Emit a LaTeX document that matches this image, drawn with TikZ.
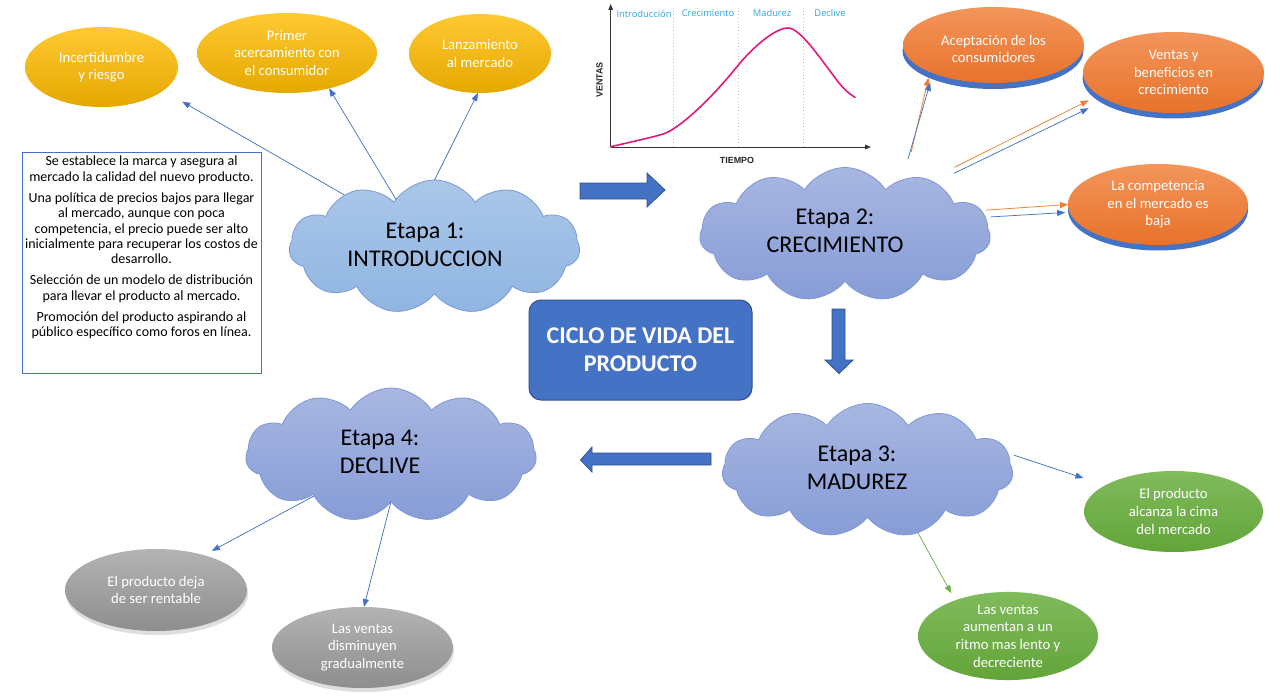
\documentclass[tikz,border=0pt]{standalone}
\usepackage{fontspec}
\setmainfont{Carlito}
\newfontfamily\chartfont{Open Sans}
\newfontfamily\chartbold{Liberation Sans}
\usetikzlibrary{shapes.geometric,shapes.symbols,arrows.meta}
\definecolor{blueA}{HTML}{4472C4}
\definecolor{blueD}{HTML}{2F528F}
\definecolor{cloudAT}{HTML}{AAC7E9}
\definecolor{cloudAB}{HTML}{8FB5E1}
\definecolor{cloudBT}{HTML}{A8B7E1}
\definecolor{cloudBB}{HTML}{879CD7}
\definecolor{cloudLine}{HTML}{7E98D6}
\definecolor{yelT}{HTML}{FFC933}
\definecolor{yelB}{HTML}{E5A800}
\definecolor{oraT}{HTML}{F3955B}
\definecolor{oraB}{HTML}{E8722A}
\definecolor{oraL}{HTML}{ED7D31}
\definecolor{greT}{HTML}{80BB5C}
\definecolor{greB}{HTML}{63A43A}
\definecolor{greL}{HTML}{70AD47}
\definecolor{graT}{HTML}{B3B3B3}
\definecolor{graB}{HTML}{8E8E8E}
\definecolor{chartTxt}{HTML}{2FA6E0}
\definecolor{curveC}{HTML}{E0197D}
\newcommand\myEll{\fontsize{11}{13.2}\selectfont}
\newcommand\myBox{\fontsize{10.5}{11.5}\selectfont}
\newcommand\myBig{\fontsize{18}{21}\selectfont}
\begin{document}
\begin{tikzpicture}[x=0.75pt,y=-0.75pt,
  ell/.style={ellipse, inner sep=0pt, outer sep=0pt, text=white, align=center, font=\myEll, draw=none},
  yel/.style={ell, top color=yelT, bottom color=yelB},
  ora/.style={ell, top color=oraT, bottom color=oraB},
  orash/.style={ell, fill=blueA},
  gre/.style={ell, top color=greT, bottom color=greB},
  gra/.style={ell, top color=graT, bottom color=graB},
  grash/.style={ell, fill=black, fill opacity=0.13},
  cl/.style={cloud, cloud puffs=11, cloud puff arc=115, aspect=2.17, inner sep=0pt, outer sep=0pt,
     minimum width=218pt, minimum height=100.5pt, draw=cloudLine, line width=0.6pt},
  clA/.style={cl, top color=cloudAT, bottom color=cloudAB},
  clB/.style={cl, top color=cloudBT, bottom color=cloudBB},
  ettxt/.style={align=center, font=\myBig, inner sep=0pt},
  ln/.style={draw=blueA, line width=0.55pt, -{Triangle[length=6pt,width=4.5pt]}},
  lo/.style={draw=oraL, line width=0.55pt, -{Triangle[length=6pt,width=4.5pt]}},
  lg/.style={draw=greL, line width=0.55pt, -{Triangle[length=6pt,width=4.5pt]}},
  bigarrow/.style={fill=blueA, draw=blueD, line width=0.6pt},
  axis/.style={draw=black!80, line width=0.7pt, -{Triangle[length=4.5pt,width=3.5pt]}},
  gridl/.style={draw=black!22, line width=0.4pt, dotted},
  ctxt/.style={font=\chartfont\fontsize{7}{8}\selectfont, text=chartTxt, inner sep=0pt},
  cbold/.style={font=\chartbold\bfseries\fontsize{6.7}{8}\selectfont, text=black!85, inner sep=0pt}
]
\useasboundingbox (0,0) rectangle (1280,699);
\fill[white] (0,0) rectangle (1280,699);

% ---------- chart ----------
\draw[gridl] (673,8) -- (673,147);
\draw[gridl] (738,8) -- (738,147);
\draw[gridl] (803,8) -- (803,147);
\draw[axis] (610.7,147) -- (610.7,4);
\draw[axis] (610.7,147) -- (871,147);
\node[ctxt] (lIntro) at (644,13.5) {Introducción};
\node[ctxt] (lCrec) at (708,13.5) {Crecimiento};
\node[ctxt] (lMad) at (772,13.5) {Madurez};
\node[ctxt] (lDec) at (830,13.5) {Declive};
\node[cbold] (lTiempo) at (737,160.5) {TIEMPO};
\node[cbold, rotate=90] (lVentas) at (599.5,80) {VENTAS};
\draw[curveC, line width=1.2pt, line cap=round]
  (610.7,146.7) .. controls (640,140) and (655,136.5) .. (663.3,134)
  .. controls (680,128) and (710,100) .. (736.7,67)
  .. controls (752.7,47.2) and (775,28) .. (788,28)
  .. controls (800,28) and (820,58) .. (836.7,80)
  .. controls (843,88.3) and (849,94) .. (855,97.3);

% ---------- yellow ellipses ----------
\node[yel, minimum width=114.75pt, minimum height=60pt] (inc) at (101.5,67) {Incertidumbre\\y riesgo};
\node[yel, minimum width=135pt, minimum height=60pt] (primer) at (287,53) {Primer\\acercamiento con\\el consumidor};
\node[yel, minimum width=106.5pt, minimum height=59.25pt] (lanz) at (480,53.5) {Lanzamiento\\al mercado};

% ---------- text box ----------
\node[draw=blueA, line width=0.75pt, minimum width=179.25pt, minimum height=165.75pt, inner sep=0pt] (tbox) at (141.5,262.5) {};
\node[anchor=north, align=center, font=\myBox, inner sep=0pt] (tboxt) at (141.5,156) {%
Se establece la marca y asegura al\\mercado la calidad del nuevo producto.\\[4.3pt]
Una política de precios bajos para llegar\\al mercado, aunque con poca\\competencia, el precio puede ser alto\\inicialmente para recuperar los costos de\\desarrollo.\\[4.3pt]
Selección de un modelo de distribución\\para llevar el producto al mercado.\\[4.3pt]
Promoción del producto aspirando al\\público específico como foros en línea.};

% ---------- clouds ----------
\node[clA] (c1) at (434.5,247) {};
\node[ettxt] (c1t) at (425,245) {Etapa 1:\\INTRODUCCION};
\node[clB] (c2) at (845,234.5) {};
\node[ettxt] (c2t) at (835,231) {Etapa 2:\\CRECIMIENTO};
\node[clB] (c3) at (867.5,470.5) {};
\node[ettxt] (c3t) at (857,468) {Etapa 3:\\MADUREZ};
\node[clB] (c4) at (391,455) {};
\node[ettxt] (c4t) at (380,452) {Etapa 4:\\DECLIVE};

% ---------- orange ellipses ----------
\node[orash, minimum width=135.75pt, minimum height=57pt] (aceptsh) at (993,51) {};
\node[ora, minimum width=135.75pt, minimum height=57pt] (acept) at (993.5,45) {};
\node[ell, inner sep=0pt] (aceptt) at (993.5,49) {Aceptación de los\\consumidores};
\node[orash, minimum width=135.75pt, minimum height=60.75pt] (ventassh) at (1173,78) {};
\node[ora, minimum width=135.75pt, minimum height=60.75pt] (ventas) at (1173.5,72.5) {Ventas y\\beneficios en\\crecimiento};
\node[orash, minimum width=135pt, minimum height=60.75pt] (compsh) at (1158,210) {};
\node[ora, minimum width=135pt, minimum height=60.75pt] (comp) at (1158,204.5) {La competencia\\en el mercado es\\baja};

% ---------- green ellipses ----------
\node[gre, minimum width=134.25pt, minimum height=60.75pt] (g1) at (1173.5,511.5) {El producto\\alcanza la cima\\del mercado};
\node[gre, minimum width=135pt, minimum height=61.5pt] (g2) at (1008,636) {Las ventas\\aumentan a un\\ritmo mas lento y\\decreciente};

% ---------- gray ellipses ----------
\node[grash, minimum width=136.5pt, minimum height=61.5pt] (gray1sh) at (157,594) {};
\node[gra, minimum width=136.5pt, minimum height=61.5pt] (gray1) at (156,590) {El producto deja\\de ser rentable};
\node[grash, minimum width=135.75pt, minimum height=60.75pt] (gray2sh) at (363.5,651.5) {};
\node[gra, minimum width=135.75pt, minimum height=60.75pt] (gray2) at (362.5,647.5) {Las ventas\\disminuyen\\gradualmente};

% ---------- title ----------
\node[rounded corners=9pt, fill=blueA, draw=blueD, line width=0.75pt, minimum width=167.25pt,
      minimum height=75pt, text=white, font=\myBig\bfseries, align=center] (title) at (640.5,350)
      {CICLO DE VIDA DEL\\PRODUCTO};

% ---------- block arrows ----------
\draw[bigarrow] (580,183) -- (647,183) -- (647,173) -- (665,190) -- (647,207) -- (647,199) -- (580,199) -- cycle;
\draw[bigarrow] (832,309) -- (845,309) -- (845,360) -- (853,360) -- (839,373.5) -- (825,360) -- (832,360) -- cycle;
\draw[bigarrow] (711,453) -- (592,453) -- (592,447) -- (580.5,460) -- (592,472) -- (592,465) -- (711,465) -- cycle;

% ---------- connectors ----------
\draw[ln, shorten >=16.5pt] (c1.150) -- (inc.-21);
\draw[ln] (c1.129) -- (primer.-40);
\draw[ln] (c1.90) -- (lanz.-93);
\draw[lo, shorten <=20.6pt, shorten >=4.5pt] (c2.43) -- (acept.-157);
\draw[ln, shorten <=15.75pt, shorten >=7.5pt] (c2.44) -- (acept.-155);
\draw[lo, shorten <=21pt, shorten >=8.5pt] (c2.33) -- (ventas.-163);
\draw[ln, shorten <=15.75pt, shorten >=14.8pt] (c2.30) -- (ventas.-158);
\draw[lo, shorten <=3.4pt] (c2.10) -- (comp.180);
\draw[ln, shorten <=3.75pt, shorten >=3.4pt] (c2.7) -- (comp.-175);
\draw[ln, shorten <=4.5pt, shorten >=17.25pt] (c3.7) -- (g1.159);
\draw[lg, shorten >=6pt] (c3.-51) -- (g2.146);
\draw[ln, shorten >=6.75pt] (c4.-152) -- (gray1.36);
\draw[ln] (c4.-90) -- (gray2.88);
\end{tikzpicture}
\end{document}
